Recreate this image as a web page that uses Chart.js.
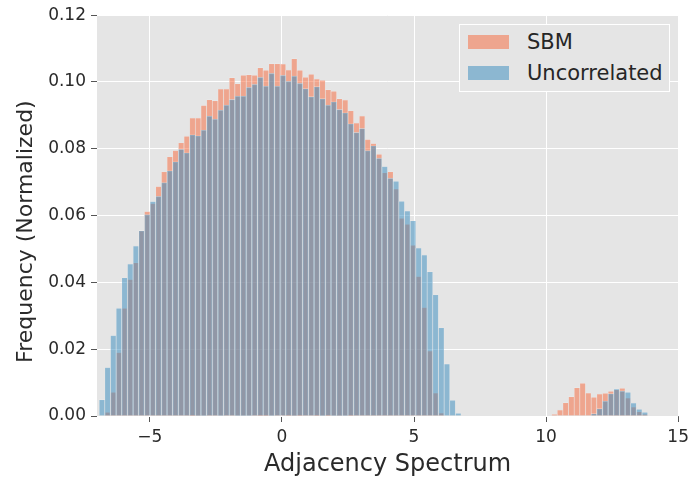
<!DOCTYPE html>
<html>
<head>
<meta charset="utf-8">
<script src="https://cdn.jsdelivr.net/npm/chart.js@4.4.1/dist/chart.umd.min.js"></script>
<style>
  body { margin: 0; background: #fff; }
  #wrap { position: relative; width: 694px; height: 480px; }
  #chart_legend {
    position: absolute; left: 459px; top: 24px; width: 209px; height: 66px;
    margin: 0; padding: 0; list-style: none;
    border: 1px solid #fff; background: #e5e5e5;
    font: 21px "DejaVu Sans", sans-serif; color: #262626;
  }
  #chart_legend li { position: absolute; left: 0; height: 24px; line-height: 24px; white-space: nowrap; }
  .swatch { position: absolute; left: 8px; top: 5px; width: 41px; height: 14px; }
  .label { position: absolute; left: 67px; top: 0; }
</style>
</head>
<body>
<div id="wrap">
  <canvas id="myChart" width="694" height="480"></canvas>
  <ul id="chart_legend"></ul>
</div>
<script>
// bin centres of the shared histogram bins (the empty bins between 7 and 10 left out)
const binCenters = [
  -6.811, -6.597, -6.383, -6.169, -5.955, -5.741, -5.527, -5.313, -5.099, -4.884,
  -4.670, -4.456, -4.242, -4.028, -3.814, -3.600, -3.386, -3.172, -2.958, -2.744,
  -2.530, -2.316, -2.102, -1.888, -1.674, -1.460, -1.245, -1.031, -0.817, -0.603,
  -0.389, -0.175, 0.039, 0.253, 0.467, 0.681, 0.895, 1.109, 1.323, 1.537,
  1.751, 1.965, 2.179, 2.394, 2.608, 2.822, 3.036, 3.250, 3.464, 3.678,
  3.892, 4.106, 4.320, 4.534, 4.748, 4.962, 5.176, 5.390, 5.604, 5.818,
  6.033, 6.247, 6.461, 6.675,
  10.314, 10.528, 10.742, 10.956, 11.170, 11.384, 11.598, 11.812, 12.026, 12.240,
  12.455, 12.669, 12.883, 13.097, 13.311, 13.525, 13.739
];

const sbmFreq = [
  0, 0.0011, 0.0071, 0.0190, 0.0323, 0.0409, 0.0459, 0.0555, 0.0612, 0.0636,
  0.0687, 0.0731, 0.0776, 0.0795, 0.0818, 0.0838, 0.0892, 0.0892, 0.0930, 0.0947,
  0.0944, 0.0979, 0.0979, 0.1013, 0.0995, 0.1020, 0.1022, 0.1020, 0.1043, 0.1035,
  0.1055, 0.1055, 0.1054, 0.1036, 0.1070, 0.1035, 0.1014, 0.1023, 0.1009, 0.1005,
  0.0977, 0.0972, 0.0950, 0.0946, 0.0914, 0.0877, 0.0898, 0.0828, 0.0816, 0.0784,
  0.0728, 0.0731, 0.0680, 0.0592, 0.0574, 0.0511, 0.0418, 0.0325, 0.0195, 0.0069,
  0.0009, 0, 0, 0,
  0.0005, 0.0018, 0.0040, 0.0058, 0.0085, 0.0098, 0.0069, 0.0056, 0.0066, 0.0068,
  0.0074, 0.0079, 0.0083, 0.0054, 0.0027, 0.0013, 0.0005
];

const uncorrFreq = [
  0.0049, 0.0145, 0.0241, 0.0323, 0.0414, 0.0455, 0.0509, 0.0555, 0.0603, 0.0642,
  0.0658, 0.0699, 0.0734, 0.0761, 0.0799, 0.0788, 0.0842, 0.0839, 0.0856, 0.0898,
  0.0889, 0.0916, 0.0931, 0.0948, 0.0958, 0.0958, 0.0984, 0.0993, 0.1014, 0.0988,
  0.1026, 0.0988, 0.1020, 0.1002, 0.1018, 0.0996, 0.0980, 0.0956, 0.0986, 0.0950,
  0.0931, 0.0941, 0.0918, 0.0908, 0.0875, 0.0849, 0.0861, 0.0795, 0.0809, 0.0772,
  0.0747, 0.0712, 0.0703, 0.0643, 0.0614, 0.0585, 0.0503, 0.0482, 0.0432, 0.0363,
  0.0264, 0.0156, 0.0047, 0.0008,
  0, 0, 0, 0, 0, 0, 0, 0.0007, 0.0022, 0.0045,
  0.0067, 0.0081, 0.0075, 0.0071, 0.0039, 0.0020, 0.0011
];

const xTicks = [-5, 0, 5, 10, 15];
const yTicks = [0, 0.02, 0.04, 0.06, 0.08, 0.10, 0.12];

const labels = ["SBM", "Uncorrelated"];
const colors = ["rgba(248, 102, 56, 0.5)", "rgba(52, 138, 189, 0.5)"];
const yTitle = "Frequency (Normalized)";

const bgPlugin = {
  id: "axesBg",
  beforeDraw(chart) {
    const { ctx, chartArea: a } = chart;
    ctx.save();
    ctx.fillStyle = "#e5e5e5";
    ctx.fillRect(a.left, a.top, a.right - a.left, a.bottom - a.top);
    ctx.restore();
  },
};

// y title drawn by hand, it sits a bit below the middle of the axis
const yTitlePlugin = {
  id: "yTitle",
  afterDraw(chart) {
    const { ctx, chartArea: a } = chart;
    ctx.save();
    ctx.translate(26, (a.top + a.bottom) / 2 + 16);
    ctx.rotate(-Math.PI / 2);
    ctx.font = "22px 'DejaVu Sans', sans-serif";
    ctx.fillStyle = "#2a2a2a";
    ctx.textAlign = "center";
    ctx.textBaseline = "middle";
    ctx.fillText(yTitle, 0, 0);
    ctx.restore();
  },
};

Chart.defaults.font.family = "'DejaVu Sans', sans-serif";
Chart.defaults.color = "#2a2a2a";

const toPoints = (vals) => binCenters.map((x, i) => ({ x, y: vals[i] }));

const ctx = document.getElementById("myChart").getContext("2d");

new Chart(ctx, {
  type: "bar",
  data: {
    datasets: [
      {
        label: labels[0],
        data: toPoints(sbmFreq),
        backgroundColor: colors[0],
        borderColor: "rgba(238, 238, 238, 0.55)",
        borderWidth: 0.6,
        order: 2,
      },
      {
        label: labels[1],
        data: toPoints(uncorrFreq),
        backgroundColor: colors[1],
        borderColor: "rgba(238, 238, 238, 0.55)",
        borderWidth: 0.6,
        order: 1,
      },
    ],
  },
  options: {
    responsive: false,
    animation: false,
    devicePixelRatio: 1,
    layout: { padding: { top: 14, right: 12, left: 0, bottom: 0 } },
    datasets: {
      bar: { grouped: false, barPercentage: 1, categoryPercentage: 1 },
    },
    scales: {
      x: {
        type: "linear",
        min: -7,
        max: 15,
        offset: false,
        afterFit: (axis) => { axis.height = 64; },
        afterBuildTicks: (axis) => { axis.ticks = xTicks.map((v) => ({ value: v })); },
        border: { display: false },
        grid: { offset: false, color: "#ffffff", lineWidth: 1, tickColor: "#555", tickLength: 6 },
        ticks: {
          padding: 5,
          font: { size: 17 },
          callback: (v) => (v < 0 ? "\u2212" + Math.abs(v) : String(v)),
        },
        title: {
          display: true,
          text: "Adjacency Spectrum",
          font: { size: 24 },
          padding: { top: 0, bottom: 1 },
        },
      },
      y: {
        min: 0,
        max: 0.12,
        afterFit: (axis) => { axis.width = 97; },
        afterBuildTicks: (axis) => { axis.ticks = yTicks.map((v) => ({ value: v })); },
        border: { display: false },
        grid: { color: "#ffffff", lineWidth: 1, tickColor: "#555", tickLength: 6 },
        ticks: {
          padding: 5,
          font: { size: 17 },
          callback: (v) => v.toFixed(2),
        },
        title: { display: false },
      },
    },
    plugins: {
      legend: { display: false },
      tooltip: { enabled: false },
    },
  },
  plugins: [bgPlugin, yTitlePlugin],
});

const legendContainer = document.getElementById("chart_legend");
labels.forEach((label, index) => {
  const li = document.createElement("li");
  li.style.top = (index === 0 ? 5 : 36) + "px";
  li.innerHTML = `<span class="swatch" style="background-color: ${colors[index]}"></span><span class="label">${label}</span>`;
  legendContainer.appendChild(li);
});
</script>
</body>
</html>
